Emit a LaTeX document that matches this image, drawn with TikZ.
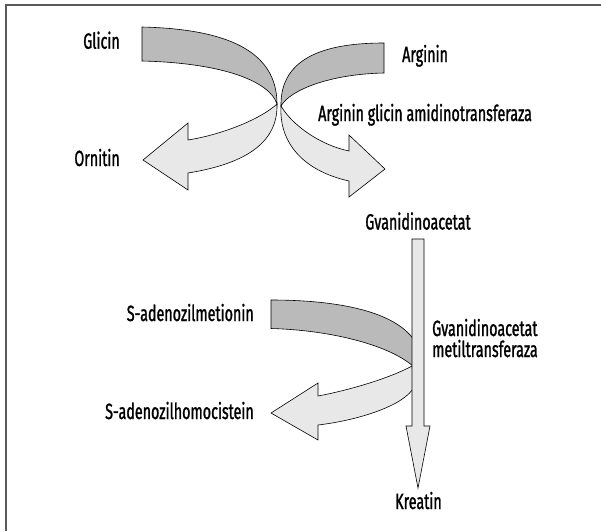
\documentclass[tikz,border=0pt]{standalone}
\usepackage{fontspec}
\setmainfont{Fira Sans}[FakeStretch=0.65, FakeBold=1.2]
\tikzstyle{darkband} = [draw=black, line width=0.6pt, fill=black!27]
\tikzstyle{lightband} = [draw=black, line width=0.6pt, fill=black!9]
\tikzstyle{lbl} = [inner sep=0pt, font=\fontsize{22}{22}\selectfont]
\tikzstyle{frame} = [line width=2pt, draw=black!65]

\begin{document}
\begin{tikzpicture}[x=1pt, y=-1pt]
    \useasboundingbox (0,0) rectangle (601,531);
    \draw [frame] (5.5,531) -- (5.5,5) -- (601,5);

    % glicin -> ornitin
    \draw [darkband] (142,27) .. controls (225,29) and (277,50) .. (277,104)
        .. controls (270,82) and (225,63) .. (142,61) -- cycle;
    \draw [lightband] (277,104) .. controls (262,118) and (225,134) .. (188,140)
        -- (188,123) -- (143,160) -- (188,190) -- (188,173)
        .. controls (250,163) and (278,140) .. (277,104) -- cycle;
    % arginin -> gvanidinoacetat
    \draw [darkband] (384,43) .. controls (330,43) and (280,55) .. (281,106)
        .. controls (290,90) and (330,74) .. (384,73) -- cycle;
    \draw [lightband] (281,106) .. controls (292,125) and (320,145) .. (349,151)
        -- (349,135) -- (385,169) -- (349,197) -- (349,181)
        .. controls (300,170) and (279,140) .. (281,106) -- cycle;
    % s-adenozilmetionin -> s-adenozilhomocistein
    \draw [darkband] (271,300) .. controls (340,300) and (395,312) .. (414,340)
        -- (414,367) .. controls (390,345) and (330,330) .. (271,328.5) -- cycle;
    \draw [lightband] (412,366) .. controls (390,378) and (350,390) .. (318,396)
        -- (318,383) -- (271,413) -- (318,440) -- (318,425)
        .. controls (360,420) and (405,405) .. (414,387) -- cycle;
    % gvanidinoacetat -> kreatin
    \draw [lightband] (412,239) -- (424,239) -- (424,426) -- (430,426) -- (418,488)
        -- (406,426) -- (412,426) -- cycle;

    \node (glicin) [lbl, anchor=base east] at (120,48.7) {Glicin};
    \node (arginin) [lbl, anchor=base west] at (402,62) {Arginin};
    \node (agat) [lbl, anchor=base west] at (318,121) {Arginin glicin amidinotransferaza};
    \node (ornitin) [lbl, anchor=base east] at (120,166) {Ornitin};
    \node (gaa) [lbl, anchor=base] at (418,229.5) {Gvanidinoacetat};
    \node (sam) [lbl, anchor=base east] at (254,321) {S-adenozilmetionin};
    \node (sah) [lbl, anchor=base east] at (254,419) {S-adenozilhomocistein};
    \node (gamt) [lbl, anchor=base west, align=left] at (432,357) {Gvanidinoacetat\\[-1pt]metiltransferaza};
    \node (kreatin) [lbl, anchor=base] at (418.5,509) {Kreatin};
\end{tikzpicture}
\end{document}
